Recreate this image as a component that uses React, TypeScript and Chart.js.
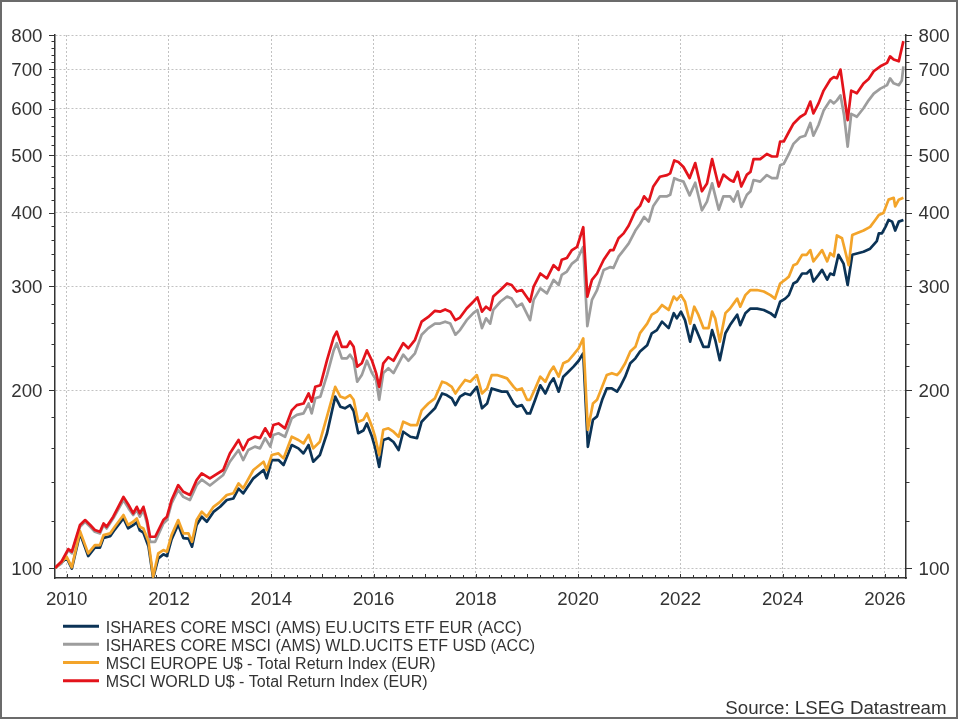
import React, { useEffect, useRef } from "react";
import { Chart, registerables } from "chart.js";

Chart.register(...registerables);

const FONT = '"Liberation Sans", Arial, Helvetica, sans-serif';

// ---- series labels & colours ----
const legendLabels = [
  "ISHARES CORE MSCI (AMS) EU.UCITS ETF EUR (ACC)",
  "ISHARES CORE MSCI (AMS) WLD.UCITS ETF USD (ACC)",
  "MSCI EUROPE U$ - Total Return Index (EUR)",
  "MSCI WORLD U$ - Total Return Index (EUR)",
];
const seriesColors = ["#0b3356", "#9d9d9d", "#f3a42a", "#e3131b"];
const sourceNote = "Source: LSEG Datastream";

// ---- axis ticks ----
const yTickValues = [100, 200, 300, 400, 500, 600, 700, 800];
const xTickYears = [2010, 2012, 2014, 2016, 2018, 2020, 2022, 2024, 2026];
const xRange = [2009.771, 2026.411];
const yRange = [96.2, 800];

// ---- data: [decimal year, rebased value] ----
type P = [number, number];

const europeEtf: P[] = [
  [2009.77, 100], [2010.0, 104], [2010.1, 99.8], [2010.26, 114.5], [2010.42, 104.8], [2010.55, 108.3],
  [2010.65, 108.3], [2010.72, 112.5], [2010.85, 113.2], [2010.94, 116.2], [2011.11, 121.5], [2011.2, 116.8],
  [2011.3, 118.2], [2011.37, 119.6], [2011.43, 115.8], [2011.5, 114.8], [2011.6, 108.8], [2011.69, 96.2],
  [2011.79, 103.8], [2011.89, 105.5], [2011.96, 104.8], [2012.05, 111.8], [2012.18, 118.5], [2012.28, 112.4],
  [2012.38, 112.2], [2012.45, 108.7], [2012.54, 118.3], [2012.64, 122.2], [2012.74, 119.8], [2012.87, 124.5],
  [2013.0, 127], [2013.13, 130.4], [2013.26, 131.2], [2013.36, 136.3], [2013.45, 133.8], [2013.65, 141.9],
  [2013.85, 146.6], [2013.91, 141.9], [2014.01, 152.4], [2014.14, 152.4], [2014.24, 149.5], [2014.4, 161.6],
  [2014.53, 159.5], [2014.63, 156.4], [2014.73, 161.6], [2014.82, 151.4], [2014.95, 155.4], [2015.09, 169.2],
  [2015.25, 195.2], [2015.35, 187.7], [2015.44, 186.5], [2015.54, 188.8], [2015.61, 184.5], [2015.7, 169.2],
  [2015.8, 171], [2015.87, 175.8], [2015.97, 166.9], [2016.03, 160], [2016.11, 148.4], [2016.19, 164.8],
  [2016.29, 166], [2016.39, 163.5], [2016.49, 158.5], [2016.58, 170.2], [2016.72, 166.9], [2016.85, 166],
  [2016.94, 177], [2017.07, 181.8], [2017.2, 186.5], [2017.34, 197.6], [2017.43, 196.4], [2017.53, 193.9],
  [2017.6, 188.8], [2017.69, 195.2], [2017.79, 197.6], [2017.89, 196.4], [2018.02, 202.8], [2018.12, 186.5],
  [2018.22, 190], [2018.31, 201.5], [2018.41, 200.2], [2018.51, 199], [2018.61, 199], [2018.74, 190],
  [2018.8, 187.7], [2018.9, 188.8], [2019.0, 182.8], [2019.06, 182.8], [2019.16, 192.8], [2019.26, 204],
  [2019.36, 197.6], [2019.45, 205.6], [2019.52, 209.6], [2019.62, 199], [2019.71, 211], [2019.81, 215.1],
  [2019.91, 219.4], [2020.01, 224.5], [2020.1, 231.1], [2020.19, 160.5], [2020.29, 178.3], [2020.37, 180.7],
  [2020.47, 192.8], [2020.56, 201.5], [2020.66, 201.5], [2020.76, 199], [2020.82, 202.8], [2020.92, 211],
  [2021.02, 222.3], [2021.12, 226.6], [2021.21, 232.7], [2021.35, 238.5], [2021.44, 249.9], [2021.54, 253],
  [2021.64, 261.5], [2021.77, 255], [2021.87, 270.3], [2021.93, 264.9], [2022.01, 271.9], [2022.09, 263],
  [2022.19, 241.9], [2022.27, 258], [2022.35, 248.5], [2022.45, 237], [2022.55, 237], [2022.62, 253],
  [2022.68, 243.6], [2022.77, 225], [2022.88, 249.9], [2022.97, 258], [2023.11, 268.7], [2023.17, 258],
  [2023.27, 270.3], [2023.37, 275.2], [2023.5, 275.2], [2023.63, 273.7], [2023.76, 270.3], [2023.85, 266.4],
  [2023.95, 282.6], [2024.05, 286.1], [2024.12, 290], [2024.21, 303.5], [2024.28, 305.8], [2024.38, 315.5],
  [2024.47, 315.5], [2024.54, 320], [2024.6, 305.8], [2024.7, 313.8], [2024.77, 320], [2024.87, 308],
  [2024.93, 315.5], [2025.0, 313.8], [2025.09, 339.4], [2025.19, 328], [2025.27, 301.7], [2025.36, 339.4],
  [2025.58, 343.5], [2025.71, 347.6], [2025.84, 358], [2025.88, 369], [2025.94, 369], [2026.01, 378.5],
  [2026.07, 388.8], [2026.14, 386.3], [2026.2, 373.1], [2026.27, 386.3], [2026.36, 388.8],
];

const worldEtf: P[] = [
  [2009.77, 100], [2009.9, 101.8], [2010.03, 107.3], [2010.1, 105.9], [2010.26, 117.5], [2010.36, 119.8],
  [2010.46, 117.5], [2010.55, 115.2], [2010.65, 114.5], [2010.72, 118.3], [2010.78, 116.7], [2010.91, 121.4],
  [2011.11, 130.4], [2011.21, 126.2], [2011.3, 123], [2011.37, 125.4], [2011.43, 122.2], [2011.5, 125.4],
  [2011.57, 119], [2011.63, 110.8], [2011.73, 110.8], [2011.89, 119], [2011.96, 120.6], [2012.05, 128.7],
  [2012.18, 135.6], [2012.28, 132], [2012.41, 130.4], [2012.54, 138.2], [2012.64, 141.2], [2012.8, 138],
  [2013.06, 143.8], [2013.19, 151.4], [2013.36, 158.5], [2013.45, 152.4], [2013.55, 158.5], [2013.68, 160.6],
  [2013.78, 159.5], [2013.88, 166], [2013.98, 160.6], [2014.04, 168.1], [2014.14, 169.2], [2014.27, 166.9],
  [2014.4, 179.3], [2014.5, 181.8], [2014.63, 182.8], [2014.73, 190], [2014.79, 182.8], [2014.86, 193.9],
  [2014.96, 195.2], [2015.09, 212.3], [2015.22, 233.8], [2015.28, 240.4], [2015.38, 226.6], [2015.48, 226.6],
  [2015.54, 229.9], [2015.61, 225], [2015.68, 206.9], [2015.77, 212.3], [2015.87, 224.5], [2015.97, 213.9],
  [2016.05, 208.3], [2016.11, 192.8], [2016.19, 213.9], [2016.29, 218.1], [2016.39, 213.9], [2016.58, 229.9],
  [2016.68, 224.5], [2016.81, 231.1], [2016.94, 248.5], [2017.07, 255], [2017.2, 259.5], [2017.3, 259.5],
  [2017.4, 261.5], [2017.5, 259.5], [2017.6, 248.5], [2017.69, 253], [2017.82, 263], [2017.95, 270.3],
  [2018.03, 273.7], [2018.12, 255], [2018.2, 264.9], [2018.28, 259.5], [2018.34, 273.7], [2018.48, 282.6],
  [2018.61, 288.4], [2018.7, 286.1], [2018.8, 277.2], [2018.9, 280.6], [2019.06, 263], [2019.13, 284.6],
  [2019.26, 297.7], [2019.39, 292], [2019.52, 307.8], [2019.62, 301.7], [2019.68, 313.8], [2019.78, 317.9],
  [2019.88, 328], [2019.98, 333], [2020.1, 350], [2020.18, 257], [2020.27, 284.6], [2020.37, 295.8],
  [2020.5, 320], [2020.63, 323.5], [2020.69, 322.3], [2020.79, 336.9], [2020.89, 345.7], [2020.99, 354.8],
  [2021.12, 373.1], [2021.21, 382.7], [2021.29, 393.5], [2021.38, 386.3], [2021.47, 410.7], [2021.6, 426.4],
  [2021.74, 426.4], [2021.8, 428.9], [2021.88, 457.6], [2021.96, 454.3], [2022.06, 451.5], [2022.18, 428],
  [2022.29, 449.6], [2022.42, 403.8], [2022.52, 417.7], [2022.62, 448.4], [2022.75, 404.6], [2022.84, 426.4],
  [2022.97, 426.4], [2023.04, 417.7], [2023.12, 434.8], [2023.19, 409], [2023.3, 428.9], [2023.37, 434.8],
  [2023.43, 454.3], [2023.56, 451.5], [2023.69, 463.2], [2023.79, 457.6], [2023.89, 457.6], [2023.95, 481.4],
  [2024.02, 484.1], [2024.12, 503], [2024.21, 523.1], [2024.34, 537], [2024.44, 540.1], [2024.54, 567.6],
  [2024.6, 540.1], [2024.7, 563.2], [2024.8, 595.7], [2024.93, 620], [2025.0, 612.6], [2025.06, 620],
  [2025.13, 632.2], [2025.2, 585], [2025.27, 517.6], [2025.34, 588.2], [2025.45, 581.5], [2025.58, 601.2],
  [2025.68, 620], [2025.78, 636.4], [2025.91, 649.1], [2026.04, 657.8], [2026.1, 675.4], [2026.17, 662.5],
  [2026.27, 657.8], [2026.33, 670], [2026.36, 707.6],
];

const europeIndex: P[] = [
  [2009.77, 100], [2010.0, 104.5], [2010.1, 100.3], [2010.26, 115.5], [2010.42, 105.9], [2010.55, 109.4],
  [2010.65, 109.4], [2010.72, 113.7], [2010.85, 114.5], [2010.94, 117.5], [2011.11, 123], [2011.2, 118.3],
  [2011.3, 119.8], [2011.37, 121.4], [2011.43, 117.5], [2011.5, 116.7], [2011.6, 110.8], [2011.69, 96.7],
  [2011.79, 105.9], [2011.89, 107.3], [2011.96, 106.6], [2012.05, 113.7], [2012.18, 120.6], [2012.28, 114.5],
  [2012.38, 114.5], [2012.45, 110.8], [2012.54, 120.6], [2012.64, 124.6], [2012.74, 122.2], [2012.87, 127],
  [2013.0, 129.5], [2013.13, 133], [2013.26, 133.9], [2013.36, 139.1], [2013.45, 136.5], [2013.65, 146.6],
  [2013.85, 151.4], [2013.91, 146.6], [2014.01, 155.4], [2014.14, 156.4], [2014.24, 153.4], [2014.4, 166.9],
  [2014.53, 164.8], [2014.63, 162.6], [2014.73, 168.1], [2014.82, 159.5], [2014.95, 163.7], [2015.09, 180.7],
  [2015.25, 202.8], [2015.35, 195.2], [2015.44, 193.9], [2015.54, 196.4], [2015.61, 192.8], [2015.7, 177],
  [2015.8, 178.3], [2015.87, 182.8], [2015.97, 173.6], [2016.03, 166.9], [2016.11, 155.4], [2016.19, 171.5],
  [2016.29, 172.5], [2016.39, 170.2], [2016.49, 166.9], [2016.58, 177], [2016.72, 174.7], [2016.85, 174.7],
  [2016.94, 185], [2017.07, 190], [2017.2, 193.9], [2017.34, 206.9], [2017.43, 205.6], [2017.53, 202.8],
  [2017.6, 197.6], [2017.69, 202.8], [2017.79, 208.3], [2017.89, 206.9], [2018.02, 212.3], [2018.12, 197.6],
  [2018.22, 201.5], [2018.31, 212.3], [2018.41, 212.3], [2018.51, 211], [2018.61, 209.6], [2018.74, 202.8],
  [2018.8, 200.2], [2018.9, 201.5], [2019.0, 192.8], [2019.06, 192.8], [2019.16, 201.5], [2019.26, 211],
  [2019.36, 206.9], [2019.45, 215.1], [2019.52, 219.4], [2019.62, 211], [2019.71, 222.3], [2019.81, 224.5],
  [2019.91, 229.9], [2020.01, 235.7], [2020.1, 245], [2020.19, 171.5], [2020.29, 190], [2020.37, 192.8],
  [2020.47, 202.8], [2020.56, 212.3], [2020.66, 213.9], [2020.76, 212.3], [2020.82, 215.1], [2020.92, 222.3],
  [2021.02, 232.7], [2021.12, 237], [2021.21, 250], [2021.35, 259.5], [2021.44, 268.7], [2021.54, 271.9],
  [2021.64, 279], [2021.77, 273.7], [2021.87, 288.4], [2021.93, 284.6], [2022.01, 290], [2022.09, 282.6],
  [2022.19, 259.5], [2022.27, 277.2], [2022.35, 268.7], [2022.45, 255], [2022.55, 255], [2022.62, 271.9],
  [2022.68, 264.9], [2022.77, 241.9], [2022.88, 270.3], [2022.97, 275.2], [2023.11, 286.1], [2023.17, 277.2],
  [2023.27, 290], [2023.37, 295.8], [2023.5, 295.8], [2023.63, 294.1], [2023.76, 290], [2023.85, 286.1],
  [2023.95, 303.5], [2024.05, 308], [2024.12, 311.7], [2024.21, 326], [2024.28, 327.9], [2024.38, 339.4],
  [2024.47, 339.4], [2024.54, 345.7], [2024.6, 330.8], [2024.7, 339.4], [2024.77, 345.7], [2024.87, 330.8],
  [2024.93, 341.6], [2025.0, 337.4], [2025.06, 366], [2025.16, 362], [2025.29, 326], [2025.36, 366.6],
  [2025.58, 373.1], [2025.71, 378.5], [2025.81, 388.8], [2025.88, 396.5], [2025.97, 399.6], [2026.07, 420.9],
  [2026.17, 423.9], [2026.2, 409.8], [2026.27, 420.9], [2026.36, 423.9],
];

const worldIndex: P[] = [
  [2009.77, 100], [2009.9, 102.6], [2010.03, 107.7], [2010.1, 106.6], [2010.26, 118.3], [2010.36, 120.6],
  [2010.46, 118.3], [2010.55, 116], [2010.65, 115.2], [2010.72, 119], [2010.78, 117.5], [2010.91, 122.2],
  [2011.11, 132], [2011.21, 127.9], [2011.3, 123.8], [2011.37, 127], [2011.43, 123.8], [2011.5, 127],
  [2011.57, 120.6], [2011.63, 113], [2011.73, 113], [2011.89, 120.6], [2011.96, 122.2], [2012.05, 130.4],
  [2012.18, 138.2], [2012.28, 134.7], [2012.41, 133], [2012.54, 140.9], [2012.64, 144.7], [2012.8, 141.9],
  [2013.06, 146.6], [2013.19, 156.4], [2013.36, 164.8], [2013.45, 158.5], [2013.55, 164.8], [2013.68, 166.9],
  [2013.78, 166], [2013.88, 172.5], [2013.98, 166.9], [2014.04, 174.7], [2014.14, 175.8], [2014.27, 172.5],
  [2014.4, 185], [2014.5, 188.8], [2014.63, 190], [2014.73, 197.6], [2014.79, 191.4], [2014.86, 202.8],
  [2014.96, 204], [2015.09, 225], [2015.22, 246], [2015.28, 251.5], [2015.38, 237], [2015.48, 237],
  [2015.54, 242], [2015.61, 237], [2015.68, 219.4], [2015.77, 222.3], [2015.87, 233.8], [2015.97, 224.5],
  [2016.05, 213.9], [2016.11, 202.8], [2016.19, 222.3], [2016.29, 227.6], [2016.39, 224.5], [2016.58, 240.4],
  [2016.68, 235.7], [2016.81, 243.6], [2016.94, 261.5], [2017.07, 266.4], [2017.2, 272.8], [2017.3, 271.9],
  [2017.4, 274.3], [2017.5, 271.9], [2017.6, 263], [2017.69, 265.7], [2017.82, 275.2], [2017.95, 282.6],
  [2018.03, 287.5], [2018.12, 271.9], [2018.2, 277.2], [2018.28, 273.7], [2018.34, 288.4], [2018.48, 295.8],
  [2018.61, 303.5], [2018.7, 301.7], [2018.8, 294.1], [2018.9, 295.8], [2019.06, 282.6], [2019.13, 299.9],
  [2019.26, 315.5], [2019.39, 309.7], [2019.52, 326], [2019.62, 320], [2019.68, 332.9], [2019.78, 335.2],
  [2019.88, 345.7], [2019.98, 350.2], [2020.1, 378], [2020.18, 288.4], [2020.27, 307.8], [2020.37, 315.5],
  [2020.5, 332.9], [2020.63, 345.7], [2020.69, 345.7], [2020.79, 362], [2020.89, 369], [2020.99, 380.6],
  [2021.12, 403], [2021.21, 410.7], [2021.29, 426.4], [2021.38, 417.7], [2021.47, 443.1], [2021.6, 460.2],
  [2021.74, 463.2], [2021.8, 466.3], [2021.88, 490.4], [2021.96, 487.4], [2022.06, 478], [2022.18, 458],
  [2022.29, 485.4], [2022.42, 434.8], [2022.52, 448.4], [2022.62, 493], [2022.75, 443], [2022.84, 464],
  [2022.97, 454.3], [2023.04, 451.5], [2023.12, 469], [2023.19, 443], [2023.3, 464], [2023.37, 469],
  [2023.43, 493], [2023.56, 493], [2023.69, 503], [2023.79, 498], [2023.89, 498], [2023.95, 528],
  [2024.02, 528], [2024.12, 548], [2024.21, 566], [2024.34, 581], [2024.44, 588], [2024.54, 617],
  [2024.6, 589], [2024.7, 612.6], [2024.8, 644], [2024.93, 672], [2025.0, 679], [2025.06, 676],
  [2025.13, 699], [2025.2, 633], [2025.27, 574], [2025.34, 644], [2025.45, 637.4], [2025.58, 662],
  [2025.68, 674], [2025.78, 694.6], [2025.91, 708], [2026.04, 717.6], [2026.1, 736], [2026.17, 727],
  [2026.27, 722], [2026.36, 781],
];

const seriesData: P[][] = [europeEtf, worldEtf, europeIndex, worldIndex];
const drawOrder = [3, 2, 1, 0];

// ---- plugins ----
const frameAndBackground = {
  id: "frameAndBackground",
  beforeDraw(chart: any) {
    const { ctx, width, height } = chart;
    ctx.save();
    ctx.fillStyle = "#ffffff";
    ctx.fillRect(0, 0, width, height);
    ctx.strokeStyle = "#6b6b6b";
    ctx.lineWidth = 2;
    ctx.strokeRect(1, 1, 956, 717);
    ctx.restore();
  },
};

const tickMarks = {
  id: "tickMarks",
  afterDraw(chart: any) {
    const { ctx, chartArea: a, scales } = chart;
    const y = scales.y;
    const x = scales.x;
    ctx.save();
    ctx.strokeStyle = "#333333";
    ctx.lineWidth = 1;
    for (let v = 100; v <= 800; v += 20) {
      const py = Math.round(y.getPixelForValue(v)) + 0.5;
      const len = v % 100 === 0 ? 6 : 3.5;
      ctx.beginPath();
      ctx.moveTo(a.left - len, py);
      ctx.lineTo(a.left, py);
      ctx.moveTo(a.right, py);
      ctx.lineTo(a.right + len, py);
      ctx.stroke();
    }
    for (let q = Math.ceil(x.min * 4) / 4; q <= x.max; q += 0.25) {
      const px = Math.round(x.getPixelForValue(q)) + 0.5;
      const len = Number.isInteger(q) ? 4 : 3;
      ctx.beginPath();
      ctx.moveTo(px, a.bottom);
      ctx.lineTo(px, a.bottom - len);
      ctx.stroke();
    }
    ctx.restore();
  },
};

const legendAndSource = {
  id: "legendAndSource",
  afterDraw(chart: any) {
    const { ctx } = chart;
    ctx.save();
    ctx.font = `16px ${FONT}`;
    ctx.textBaseline = "alphabetic";
    ctx.textAlign = "left";
    legendLabels.forEach((label, i) => {
      const base = 632.7 + i * 18.15;
      ctx.strokeStyle = seriesColors[i];
      ctx.lineWidth = 3;
      ctx.beginPath();
      ctx.moveTo(63, base - 6.5);
      ctx.lineTo(99, base - 6.5);
      ctx.stroke();
      ctx.fillStyle = "#333333";
      ctx.fillText(label, 105.7, base);
    });
    ctx.font = `18.7px ${FONT}`;
    ctx.textAlign = "right";
    ctx.fillText(sourceNote, 946.5, 714);
    ctx.restore();
  },
};

const tickFont = { family: FONT, size: 18.7 };

export default function App() {
  const canvasRef = useRef<HTMLCanvasElement | null>(null);

  useEffect(() => {
    document.body.style.margin = "0";
    const canvas = canvasRef.current;
    if (!canvas) return;

    const datasets = seriesData.map((d, i) => ({
      label: legendLabels[i],
      data: d.map(([x, y]) => ({ x, y })),
      borderColor: seriesColors[i],
      backgroundColor: seriesColors[i],
      borderWidth: 2.7,
      pointRadius: 0,
      tension: 0,
      fill: false,
      order: drawOrder[i],
      borderJoinStyle: "round" as const,
    }));

    const yScale = (position: "left" | "right") => ({
      type: "logarithmic" as const,
      position,
      min: yRange[0],
      max: yRange[1],
      bounds: "data" as const,
      afterBuildTicks: (s: any) => {
        s.ticks = yTickValues.map((value) => ({ value }));
      },
      afterFit: (s: any) => {
        s.width = position === "left" ? 55 : 54;
      },
      ticks: {
        callback: (v: any) => String(v),
        font: tickFont,
        color: "#333333",
        padding: 12.5,
        labelOffset: 1.5,
        autoSkip: false,
      },
      grid: {
        display: position === "left",
        drawOnChartArea: position === "left",
        drawTicks: false,
        color: "#c2c2c2",
        lineWidth: 1,
      },
      border: { display: true, color: "#333333", width: 1.5, dash: [2, 2] },
    });

    const chart = new Chart(canvas, {
      type: "line",
      data: { datasets },
      options: {
        animation: false,
        responsive: false,
        maintainAspectRatio: false,
        layout: { padding: { left: 0, right: 0, top: 35, bottom: 0 } },
        plugins: { legend: { display: false }, tooltip: { enabled: false } },
        scales: {
          x: {
            type: "linear",
            min: xRange[0],
            max: xRange[1],
            bounds: "data",
            afterBuildTicks: (s: any) => {
              s.ticks = xTickYears.map((value) => ({ value }));
            },
            afterFit: (s: any) => {
              s.height = 142;
            },
            ticks: {
              callback: (v: any) => String(v),
              font: tickFont,
              color: "#333333",
              padding: 10.5,
              maxRotation: 0,
              autoSkip: false,
            },
            grid: { drawTicks: false, color: "#c2c2c2", lineWidth: 1 },
            border: { display: true, color: "#333333", width: 1.5, dash: [2, 2] },
          },
          y: yScale("left"),
          y2: yScale("right"),
        },
      } as any,
      plugins: [frameAndBackground, tickMarks, legendAndSource],
    });

    return () => chart.destroy();
  }, []);

  return (
    <div style={{ width: 960, height: 720 }}>
      <canvas ref={canvasRef} width={960} height={720} style={{ display: "block" }} />
    </div>
  );
}
